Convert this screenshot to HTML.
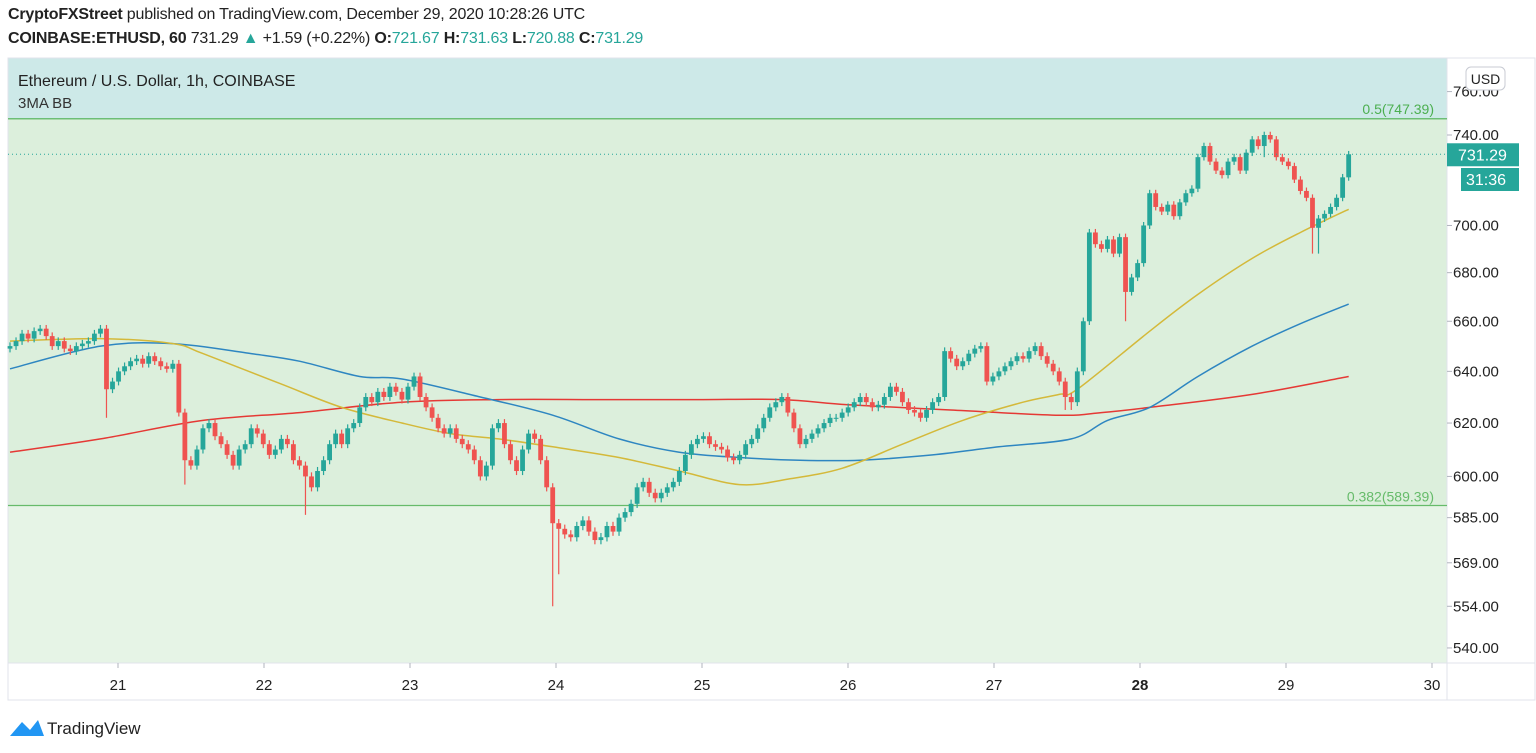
<!DOCTYPE html>
<html><head><meta charset="utf-8">
<style>
body{margin:0;width:1536px;height:753px;background:#fff;font-family:"Liberation Sans",sans-serif;overflow:hidden;position:relative}
.hdr{position:absolute;left:8px;font-size:16px;color:#222;white-space:nowrap;letter-spacing:-0.2px}
.g{color:#26a69a}
</style></head><body>
<div class="hdr" style="top:6px"><b>CryptoFXStreet</b> published on TradingView.com, December 29, 2020 10:28:26 UTC</div>
<div class="hdr" style="top:30px"><b>COINBASE:ETHUSD, 60</b> 731.29 <span class="g">▲</span> +1.59 (+0.22%) <b>O:</b><span class="g">721.67</span> <b>H:</b><span class="g">731.63</span> <b>L:</b><span class="g">720.88</span> <b>C:</b><span class="g">731.29</span></div>
<svg id="ch" width="1536" height="753" style="position:absolute;left:0;top:0"></svg>
<script>
const closes=[650,652,655,653,656,657,654,650,652,649,
648,650,651,652,655,657,633,636,640,642,
644,645,643,646,644,642,641,643,624,606,
604,610,618,620,615,612,608,604,610,612,
618,616,612,608,610,614,612,606,604,600,
596,602,606,612,616,612,618,620,626,630,
628,632,630,634,632,629,634,638,630,626,
622,618,616,618,614,612,610,606,600,604,
618,620,612,606,602,610,616,614,606,596,
583,581,579,578,582,584,580,577,578,582,
580,585,587,590,596,598,594,592,594,596,
598,602,608,612,614,615,612,611,610,607,
606,608,612,614,618,622,626,628,630,624,
618,612,614,616,618,620,622,622,624,626,
628,630,628,626,627,630,634,632,628,625,
624,622,625,628,630,648,645,642,644,647,
649,650,636,638,640,642,644,646,645,648,
650,646,643,640,636,630,628,640,660,697,
692,690,694,688,695,672,678,684,700,714,
708,706,709,704,710,714,716,730,735,728,
724,722,728,730,724,732,738,735,740,738,
730,728,726,720,715,712,699,703,705,708,
712,721,731.29];
const firstOpen=649;
const bigWickIdx=[16,29,49,90,91,175,176,185,208,216,217];
const bigWickLow=[622,597,586,554,565,625,625,660,730,688,688];
const ma50Idx=[0,15,27,32,45,55,65,73,81,90,101,111,121,129,138,148,158,168,174,177,189,197,206,214,222];
const ma50=[652,653,651,647,635,626,620,616,614,611,607,602,597,599,603,612,621,628,631,633,656,671,686,697,707];
const ma100Idx=[0,15,27,40,48,58,65,78,90,101,111,121,131,141,153,164,176,182,189,197,206,214,222];
const ma100=[641,650,651,647,644,638,637,630,623,614,609,607,606,606,608,611,614,621,626,638,650,659,667];
const ma200Idx=[0,15,32,48,65,81,98,114,128,139,156,174,181,189,206,222];
const ma200=[609,614,621,624,628,629,629,629,629,627,625,623,624,626,631,638];
const yTicks=[760,740,700,680,660,640,620,600,585,569,554,540];
const dayLabels=["21","22","23","24","25","26","27","28","29","30"];

const NS="http://www.w3.org/2000/svg",svg=document.getElementById('ch');
const L=8,R=1447,T=58,B=663,X0=10,STEP=6.03,DAYX0=118,DAYW=146;
const y=p=>135+1628*Math.log(740/p);
const x=i=>X0+i*STEP;
function mk(t,a,p){const e=document.createElementNS(NS,t);for(const k in a)e.setAttribute(k,a[k]);(p||svg).appendChild(e);return e;}
let e;
e=mk('rect',{x:L,y:T,width:R-L,height:y(747.39)-T,fill:'#cde9e8'});


e=mk('rect',{x:L,y:y(747.39),width:R-L,height:y(589.39)-y(747.39),fill:'#dcefdc'});


e=mk('rect',{x:L,y:y(589.39),width:R-L,height:B-y(589.39),fill:'#e6f4e6'});


mk('rect',{x:L,y:T,width:1536-L-1,height:700-T,fill:'none',stroke:'#e0e3eb'});
mk('line',{x1:R,y1:T,x2:R,y2:700,stroke:'#e0e3eb'});
mk('line',{x1:L,y1:B,x2:1535,y2:B,stroke:'#e0e3eb'});
e=mk('line',{x1:L,y1:y(747.39),x2:R,y2:y(747.39),stroke:'#4caf50','stroke-width':1.2});


e=mk('line',{x1:L,y1:y(589.39),x2:R,y2:y(589.39),stroke:'#66bb6a','stroke-width':1.2});


e=mk('text',{x:1434,y:y(747.39)-5,'text-anchor':'end','font-size':14,fill:'#4caf50'});e.textContent='0.5(747.39)';


e=mk('text',{x:1434,y:y(589.39)-4,'text-anchor':'end','font-size':14,fill:'#66bb6a'});e.textContent='0.382(589.39)';


e=mk('text',{x:18,y:86,'font-size':16,fill:'#222'});e.textContent='Ethereum / U.S. Dollar, 1h, COINBASE';


e=mk('text',{x:18,y:108,'font-size':15,fill:'#333'});e.textContent='3MA BB';


function ma(idx,arr,col,name){
const P=arr.map((v,k)=>[x(idx[k]),y(v)]);let d='M'+P[0][0]+' '+P[0][1];
for(let k=0;k<P.length-1;k++){const p0=P[k-1]||P[k],p1=P[k],p2=P[k+1],p3=P[k+2]||p2;
d+='C'+(p1[0]+(p2[0]-p0[0])/6).toFixed(1)+' '+(p1[1]+(p2[1]-p0[1])/6).toFixed(1)+' '+(p2[0]-(p3[0]-p1[0])/6).toFixed(1)+' '+(p2[1]-(p3[1]-p1[1])/6).toFixed(1)+' '+p2[0].toFixed(1)+' '+p2[1].toFixed(1);}
const p=mk('path',{d:d,fill:'none',stroke:col,'stroke-width':1.5});

}
ma(ma200Idx,ma200,'#e53935','ma-red-line');ma(ma100Idx,ma100,'#2e86c1','ma-blue-line');ma(ma50Idx,ma50,'#d4b93a','ma-yellow-line');
closes.forEach((c,i)=>{const o=i?closes[i-1]:firstOpen;const up=c>=o;const col=up?'#26a69a':'#ef5350';
let hi=Math.max(o,c)+1.5,lo=Math.min(o,c)-1.5;const w=bigWickIdx.indexOf(i);if(w>=0)lo=bigWickLow[w];
const g=mk('g',{});


mk('line',{x1:x(i),x2:x(i),y1:y(hi),y2:y(lo),stroke:col,'stroke-width':1.2},g);
const t=y(Math.max(o,c)),b=y(Math.min(o,c));mk('rect',{x:x(i)-2.4,y:t,width:4.8,height:Math.max(1,b-t),fill:col},g);});
e=mk('line',{x1:L,y1:y(731.29),x2:R,y2:y(731.29),stroke:'#26a69a','stroke-dasharray':'1,3'});


yTicks.forEach(v=>{const yy=y(v);mk('line',{x1:R,x2:R+5,y1:yy,y2:yy,stroke:'#b2b5be'});
const t=mk('text',{x:1453,y:yy+5,'font-size':15,fill:'#222'});t.textContent=v.toFixed(2);

});
e=mk('rect',{x:1466,y:67,width:39,height:23,rx:5,fill:'#fff',stroke:'#c8cbd3'});


e=mk('text',{x:1485.5,y:84,'text-anchor':'middle','font-size':14,fill:'#222'});e.textContent='USD';
e=mk('rect',{x:1447,y:y(731.29)-11,width:72,height:23,fill:'#26a69a'});


e=mk('text',{x:1458,y:y(731.29)+6,'font-size':16,fill:'#fff'});e.textContent='731.29';
e=mk('rect',{x:1461,y:168,width:58,height:23,fill:'#26a69a'});


e=mk('text',{x:1466,y:185,'font-size':16,fill:'#fff'});e.textContent='31:36';
dayLabels.forEach((d,k)=>{const xx=DAYX0+DAYW*k;mk('line',{x1:xx,x2:xx,y1:B,y2:B+5,stroke:'#b2b5be'});
const t=mk('text',{x:xx,y:690,'text-anchor':'middle','font-size':15,fill:'#222','font-weight':d==='28'?'bold':'normal'});t.textContent=d;

});
e=mk('g',{});


mk('path',{d:'M10 736 L22 722 L30 730 L38 720 L44 736 Z',fill:'#2196f3'},e);
const lt=mk('text',{x:47,y:734,'font-size':17,fill:'#222'},e);lt.textContent='TradingView';
</script>
</body></html>
